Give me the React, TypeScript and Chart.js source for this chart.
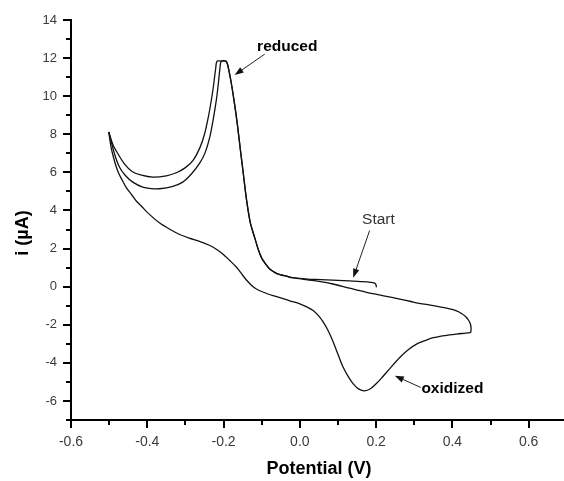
import React, { useEffect, useRef } from 'react';
import { Chart, registerables } from 'chart.js';

Chart.register(...registerables);

// ---- Data (potential in V, current in µA) ----
// Sweep 1: start at 0.2 V, cathodic sweep through the reduction peak to -0.5 V
const sweep1Potential = [0.201, 0.198, 0.185, 0.16, 0.13, 0.10, 0.07, 0.04, 0.01,
  -0.02, -0.035, -0.05, -0.065, -0.079, -0.09, -0.1, -0.109, -0.118, -0.125, -0.131, -0.14, -0.148, -0.156, -0.164, -0.172, -0.179, -0.185, -0.19, -0.194,
  -0.206, -0.217, -0.221, -0.226, -0.232, -0.24, -0.25, -0.262, -0.28, -0.3, -0.324, -0.35, -0.385, -0.415, -0.44, -0.46, -0.477, -0.49, -0.501];
const sweep1Current = [-0.03, 0.17, 0.23, 0.27, 0.3, 0.33, 0.36, 0.38, 0.41,
  0.47, 0.55, 0.62, 0.74, 0.93, 1.2, 1.5, 1.95, 2.55, 3.0, 3.47, 4.6, 5.9, 7.2, 8.55, 9.7, 10.6, 11.25, 11.7, 11.84,
  11.84, 11.84, 11.4, 10.6, 9.8, 8.9, 8.0, 7.3, 6.63, 6.25, 5.98, 5.82, 5.75, 5.85, 6.05, 6.45, 6.98, 7.45, 8.12];

// Sweep 2: anodic sweep from -0.5 V through the oxidation peak to 0.45 V
const sweep2Potential = [-0.501, -0.495, -0.486, -0.477, -0.466, -0.455, -0.44, -0.429, -0.415, -0.4, -0.37, -0.34, -0.315, -0.29, -0.263, -0.236, -0.22, -0.202, -0.185, -0.166, -0.153, -0.14, -0.127, -0.114, -0.092, -0.07, -0.048, -0.027,
  0.0, 0.017, 0.035, 0.05, 0.061, 0.074, 0.087, 0.1, 0.113, 0.127, 0.14, 0.155, 0.17, 0.185, 0.2, 0.215, 0.236, 0.262, 0.285, 0.306, 0.33, 0.35, 0.38, 0.411, 0.435, 0.448];
const sweep2Current = [8.12, 7.33, 6.6, 6.05, 5.6, 5.2, 4.8, 4.5, 4.22, 3.9, 3.38, 3.0, 2.74, 2.55, 2.38, 2.16, 1.98, 1.72, 1.4, 1.02, 0.68, 0.35, 0.08, -0.12, -0.32, -0.47, -0.6, -0.74,
  -0.9, -1.05, -1.25, -1.55, -1.85, -2.3, -2.88, -3.55, -4.2, -4.72, -5.1, -5.38, -5.47, -5.36, -5.1, -4.78, -4.3, -3.72, -3.3, -3.02, -2.82, -2.68, -2.57, -2.49, -2.44, -2.41];

// Sweep 3: cathodic sweep from 0.45 V back through the reduction peak to -0.5 V
const sweep3Potential = [0.448, 0.449, 0.447, 0.442, 0.435, 0.425, 0.411, 0.39, 0.35, 0.3, 0.262, 0.22, 0.175, 0.13, 0.087, 0.05, 0.02, 0.0,
  -0.02, -0.035, -0.05, -0.065, -0.079, -0.09, -0.1, -0.109, -0.118, -0.125, -0.131, -0.14, -0.148, -0.156, -0.164, -0.172, -0.179, -0.185, -0.19, -0.194,
  -0.206, -0.21, -0.214, -0.219, -0.227, -0.236, -0.248, -0.263, -0.285, -0.307, -0.335, -0.368, -0.39, -0.412, -0.438, -0.458, -0.473, -0.486, -0.501];
const sweep3Current = [-2.41, -2.2, -1.95, -1.75, -1.58, -1.42, -1.27, -1.15, -1.0, -0.82, -0.65, -0.48, -0.3, -0.08, 0.14, 0.28, 0.36, 0.42,
  0.47, 0.55, 0.62, 0.74, 0.93, 1.2, 1.5, 1.95, 2.55, 3.0, 3.47, 4.6, 5.9, 7.2, 8.55, 9.7, 10.6, 11.25, 11.7, 11.84,
  11.84, 11.37, 10.6, 9.79, 8.8, 7.86, 7.05, 6.47, 5.9, 5.49, 5.25, 5.14, 5.15, 5.23, 5.49, 5.85, 6.28, 6.98, 8.12];

// Axis ranges and tick values
const xMin = -0.6, xMax = 0.69;
const yMin = -7, yMax = 14;
const xTickValues = [-0.6, -0.5, -0.4, -0.3, -0.2, -0.1, 0.0, 0.1, 0.2, 0.3, 0.4, 0.5, 0.6];
const xTickLabels = ['-0.6', '', '-0.4', '', '-0.2', '', '0.0', '', '0.2', '', '0.4', '', '0.6'];
const yTickValues = [-7, -6, -5, -4, -3, -2, -1, 0, 1, 2, 3, 4, 5, 6, 7, 8, 9, 10, 11, 12, 13, 14];
const yTickLabels = ['', '-6', '', '-4', '', '-2', '', '0', '', '2', '', '4', '', '6', '', '8', '', '10', '', '12', '', '14'];
const xTitle = 'Potential (V)';
const yTitle = 'i (µA)';

// Annotations (text at data position, arrow from -> to in data coordinates)
const annotationTexts = ['reduced', 'Start', 'oxidized'];
const annotationTextPos = [[-0.033, 12.58], [0.206, 3.5], [0.40, -5.37]];
const annotationBold = [true, false, true];
const arrowFrom = [[-0.092, 12.21], [0.183, 2.95], [0.317, -5.29]];
const arrowTo = [[-0.171, 11.11], [0.140, 0.47], [0.249, -4.68]];

const FONT = "'Liberation Sans', Arial, sans-serif";

const toPoints = (xs: number[], ys: number[]) => xs.map((x, i) => ({ x, y: ys[i] }));

const axisTicksPlugin = {
  id: 'axisTicks',
  afterDraw(chart: any) {
    const ctx = chart.ctx;
    const { left, bottom } = chart.chartArea;
    ctx.save();
    ctx.strokeStyle = '#000';
    ctx.lineWidth = 2;
    const xs = chart.scales.x;
    xs.ticks.forEach((t: any, i: number) => {
      const major = xTickLabels[i] !== '';
      const px = Math.round(xs.getPixelForValue(t.value));
      ctx.beginPath();
      ctx.moveTo(px, bottom);
      ctx.lineTo(px, bottom + (major ? 8 : 5));
      ctx.stroke();
    });
    const ys = chart.scales.y;
    ys.ticks.forEach((t: any, i: number) => {
      const major = yTickLabels[i] !== '';
      const py = Math.round(ys.getPixelForValue(t.value));
      ctx.beginPath();
      ctx.moveTo(left, py);
      ctx.lineTo(left - (major ? 8 : 5), py);
      ctx.stroke();
    });
    // axis titles
    ctx.fillStyle = '#000';
    ctx.font = `bold 18px ${FONT}`;
    ctx.textAlign = 'center';
    ctx.textBaseline = 'alphabetic';
    ctx.fillText(xTitle, (chart.chartArea.left + chart.chartArea.right) / 2 + 2, 474);
    ctx.save();
    ctx.translate(23, (chart.chartArea.top + chart.chartArea.bottom) / 2 + 13);
    ctx.rotate(-Math.PI / 2);
    ctx.textBaseline = 'middle';
    ctx.fillText(yTitle, 0, 0);
    ctx.restore();
    ctx.restore();
  },
};

const annotationPlugin = {
  id: 'cvAnnotations',
  afterDatasetsDraw(chart: any) {
    const ctx = chart.ctx;
    const xs = chart.scales.x, ys = chart.scales.y;
    ctx.save();
    annotationTexts.forEach((txt, i) => {
      const tx = xs.getPixelForValue(annotationTextPos[i][0]);
      const ty = ys.getPixelForValue(annotationTextPos[i][1]);
      ctx.font = `${annotationBold[i] ? 'bold ' : ''}15.5px ${FONT}`;
      ctx.fillStyle = annotationBold[i] ? '#000' : '#333';
      ctx.textAlign = 'center';
      ctx.textBaseline = 'middle';
      ctx.fillText(txt, tx, ty);
      const x1 = xs.getPixelForValue(arrowFrom[i][0]);
      const y1 = ys.getPixelForValue(arrowFrom[i][1]);
      const x2 = xs.getPixelForValue(arrowTo[i][0]);
      const y2 = ys.getPixelForValue(arrowTo[i][1]);
      const ang = Math.atan2(y2 - y1, x2 - x1);
      const headLen = 9, headW = 3.2;
      ctx.strokeStyle = '#222';
      ctx.lineWidth = 1;
      ctx.beginPath();
      ctx.moveTo(x1, y1);
      ctx.lineTo(x2 - Math.cos(ang) * headLen * 0.8, y2 - Math.sin(ang) * headLen * 0.8);
      ctx.stroke();
      ctx.fillStyle = '#111';
      ctx.beginPath();
      ctx.moveTo(x2, y2);
      ctx.lineTo(x2 - Math.cos(ang) * headLen - Math.sin(ang) * headW, y2 - Math.sin(ang) * headLen + Math.cos(ang) * headW);
      ctx.lineTo(x2 - Math.cos(ang) * headLen + Math.sin(ang) * headW, y2 - Math.sin(ang) * headLen - Math.cos(ang) * headW);
      ctx.closePath();
      ctx.fill();
    });
    ctx.restore();
  },
};

export default function App() {
  const canvasRef = useRef<HTMLCanvasElement>(null);

  useEffect(() => {
    if (!canvasRef.current) return;
    const lineStyle = {
      showLine: true,
      borderColor: '#111',
      borderWidth: 1.3,
      pointRadius: 0,
      pointHoverRadius: 0,
      tension: 0.3,
      fill: false,
    };
    const chart = new Chart(canvasRef.current, {
      type: 'scatter',
      data: {
        datasets: [
          { label: 'sweep 1', data: toPoints(sweep1Potential, sweep1Current), ...lineStyle },
          { label: 'sweep 2', data: toPoints(sweep2Potential, sweep2Current), ...lineStyle },
          { label: 'sweep 3', data: toPoints(sweep3Potential, sweep3Current), ...lineStyle },
        ],
      },
      options: {
        animation: false,
        responsive: false,
        devicePixelRatio: 1,
        layout: { padding: { top: 20, right: 1, left: 0, bottom: 0 } },
        plugins: {
          legend: { display: false },
          tooltip: { enabled: false },
          title: { display: false },
        },
        scales: {
          x: {
            type: 'linear',
            position: 'bottom',
            min: xMin,
            max: xMax,
            afterBuildTicks: (s: any) => { s.ticks = xTickValues.map((v) => ({ value: v })); },
            afterFit: (s: any) => { s.height = 61; },
            ticks: {
              autoSkip: false,
              maxRotation: 0,
              padding: 6,
              color: '#3a3a3a',
              font: { family: FONT, size: 14 },
              callback: (_v: any, i: number) => xTickLabels[i],
            },
            grid: { display: true, drawOnChartArea: false, drawTicks: true, tickLength: 8, color: 'rgba(0,0,0,0)' },
            border: { display: true, color: '#000', width: 2 },
          },
          y: {
            type: 'linear',
            position: 'left',
            min: yMin,
            max: yMax,
            afterBuildTicks: (s: any) => { s.ticks = yTickValues.map((v) => ({ value: v })); },
            afterFit: (s: any) => { s.width = 71; },
            ticks: {
              autoSkip: false,
              padding: 6,
              color: '#3a3a3a',
              font: { family: FONT, size: 13 },
              callback: (_v: any, i: number) => yTickLabels[i],
            },
            grid: { display: true, drawOnChartArea: false, drawTicks: true, tickLength: 8, color: 'rgba(0,0,0,0)' },
            border: { display: true, color: '#000', width: 2 },
          },
        },
      },
      plugins: [annotationPlugin, axisTicksPlugin],
    } as any);
    return () => chart.destroy();
  }, []);

  return (
    <div style={{ position: 'absolute', left: 0, top: 0, width: 564, height: 481, background: '#fff' }}>
      <canvas ref={canvasRef} width={564} height={481} style={{ display: 'block' }} />
    </div>
  );
}
